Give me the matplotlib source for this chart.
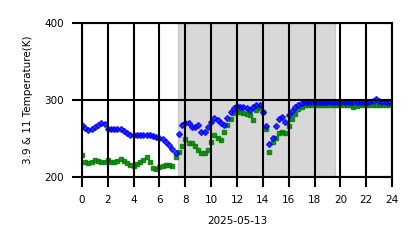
import numpy as np
import matplotlib
matplotlib.use("Agg")
import matplotlib.pyplot as plt

# 15-minute samples, hours from midnight
hours = np.arange(96) / 4.0

# 3.9 um brightness temperature (K)
t39 = [268, 264, 261, 262, 265, 268, 270, 269, 263, 263, 262, 263,
       263, 260, 257, 255, 254, 254, 254, 254, 255, 254, 253, 252,
       251, 249, 246, 242, 236, 231, 256, 267, 270, 270, 265, 265,
       268, 258, 258, 265, 271, 277, 274, 270, 268, 277, 284, 290,
       292, 291, 291, 290, 287, 291, 293, 294, 284, 266, 243, 251,
       266, 276, 278, 271, 280, 286, 291, 294, 296, 297, 297, 297,
       297, 297, 297, 297, 297, 297, 297, 297, 298, 298, 298, 298,
       298, 298, 298, 298, 298, 298, 299, 302, 299, 298, 298, 298]

# 11 um brightness temperature (K)
t11 = [229, 219, 218, 219, 222, 221, 219, 220, 222, 220, 219, 221,
       223, 221, 218, 216, 214, 217, 219, 222, 226, 219, 212, 211,
       213, 215, 216, 216, 215, 226, 232, 241, 250, 244, 244, 241,
       235, 231, 231, 235, 245, 254, 251, 248, 258, 267, 276, 283,
       285, 284, 283, 282, 281, 274, 287, 290, 284, 262, 232, 245,
       251, 257, 259, 257, 266, 276, 282, 288, 291, 293, 294, 294,
       294, 294, 294, 294, 294, 294, 294, 294, 293, 293, 293, 293,
       291, 292, 293, 293, 293, 293, 293, 293, 293, 293, 293, 294]

# daylight window (hours)
day_start, day_end = 7.45, 19.6

xticks = list(range(0, 25, 2))
yticks = [200, 300, 400]

fig = plt.figure(figsize=(4.18, 2.48), dpi=100)
ax = fig.add_axes([0.196, 0.286, 0.742, 0.621])

ax.axvspan(day_start, day_end, color="gray", alpha=0.3, zorder=0)
ax.plot(hours, t11, "s", color="green", markersize=2.6, alpha=0.85, zorder=2)
ax.plot(hours, t39, "D", color="blue", markersize=3.0, alpha=0.8, zorder=2)

ax.set_xlim(0, 24)
ax.set_ylim(200, 400)
ax.set_xticks(xticks)
ax.set_yticks(yticks)
ax.tick_params(labelsize=7.5, length=7, width=1.5, pad=6)
ax.grid(True, color="black", linewidth=1.5)
ax.set_axisbelow(False)
for s in ax.spines.values():
    s.set_linewidth(1.5)

ax.set_xlabel("2025-05-13", fontsize=7.5, labelpad=8)
ax.set_ylabel("3.9 & 11 Temperature(K)", fontsize=7.5, labelpad=8)

fig.savefig("out.png", dpi=100)
